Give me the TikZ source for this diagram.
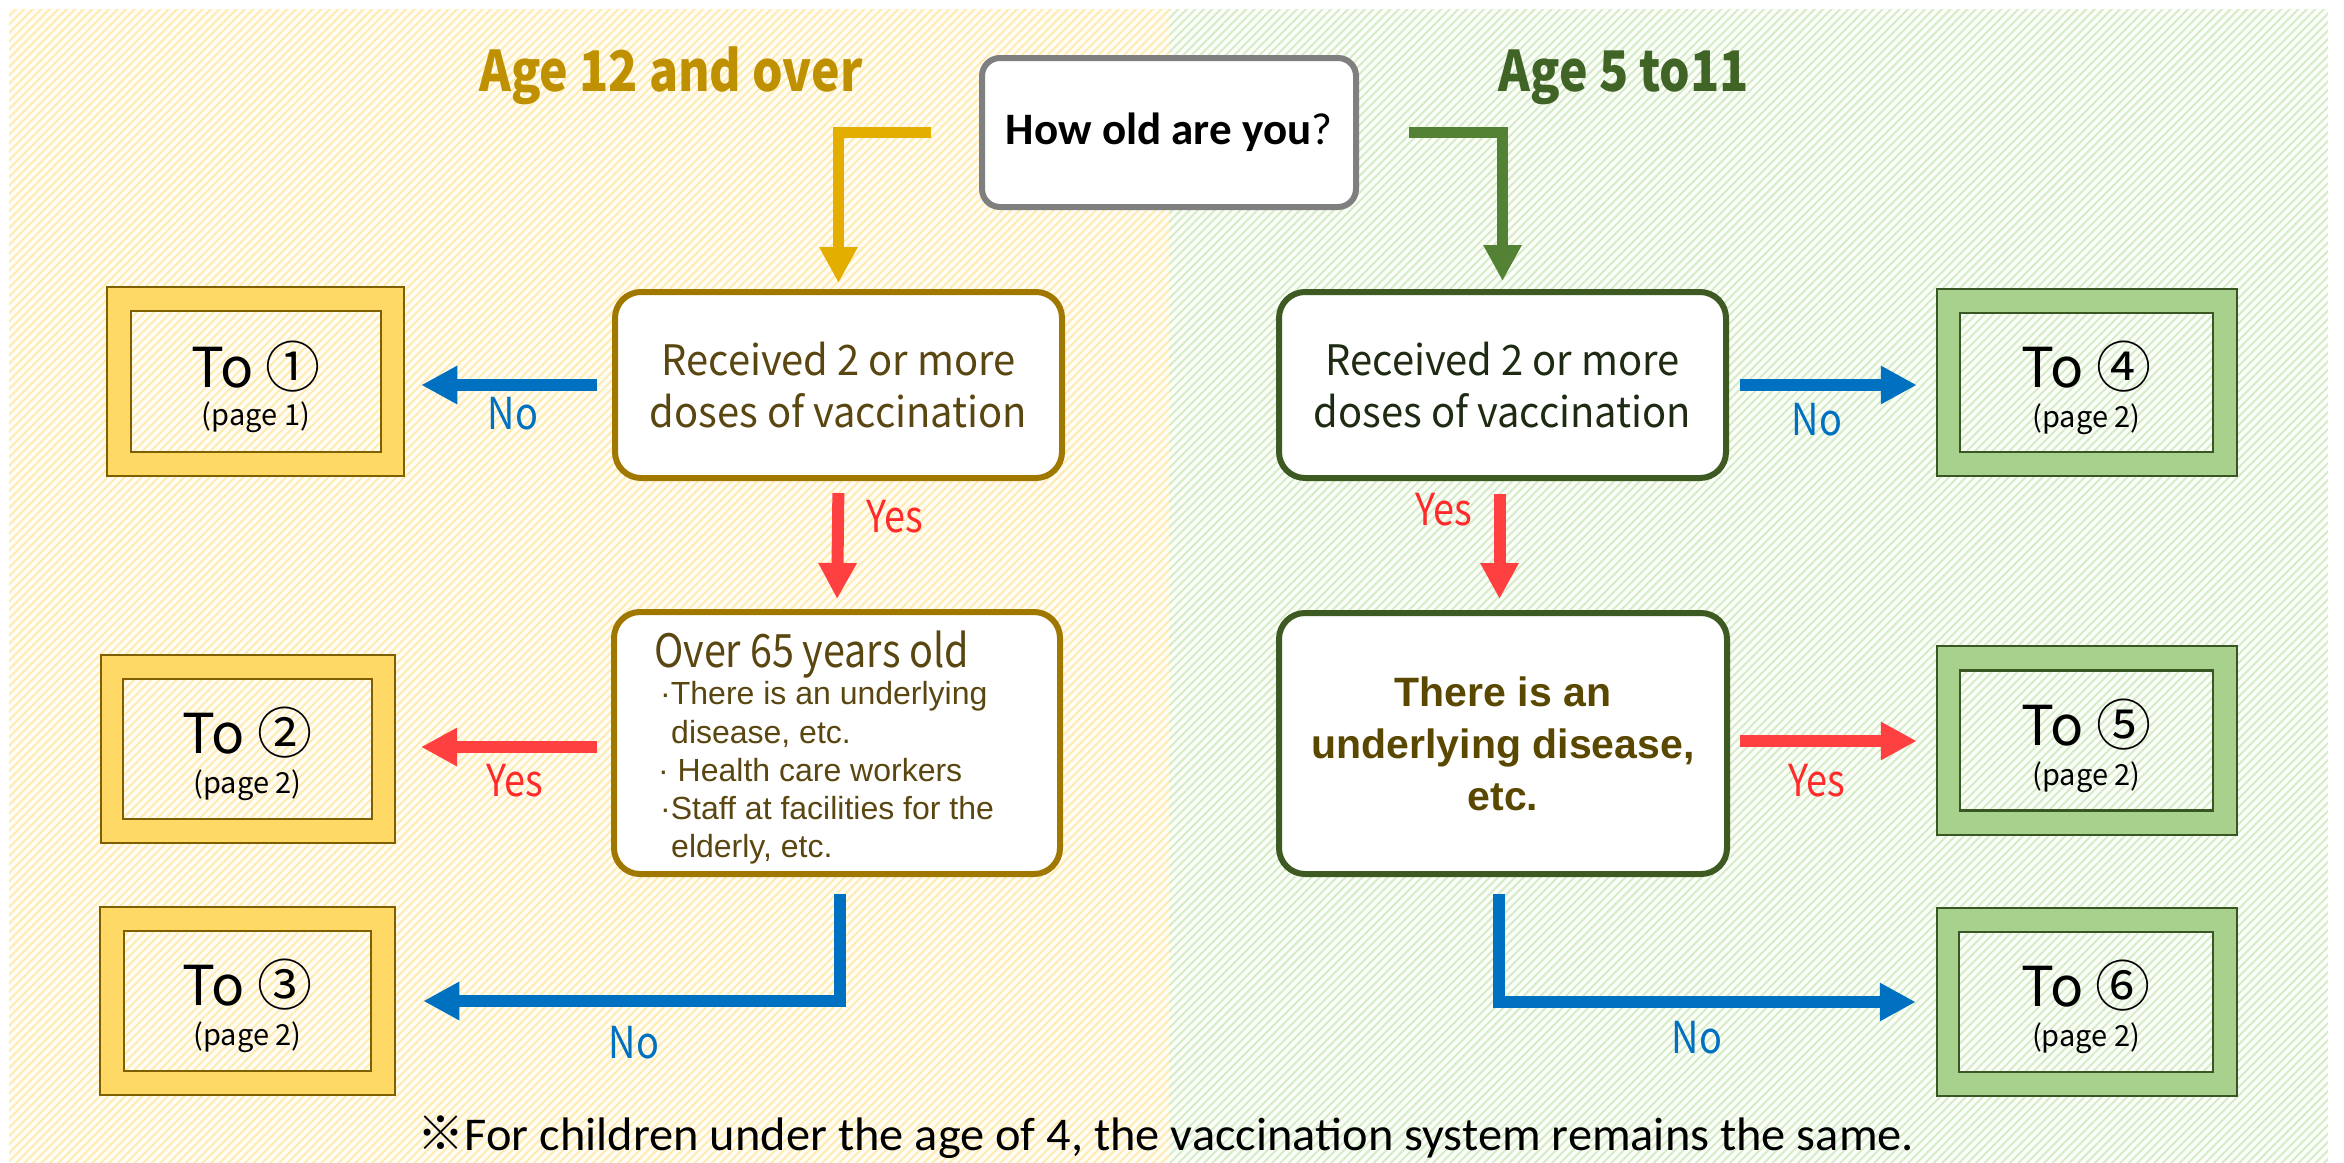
\documentclass[tikz,border=0pt]{standalone}
\usepackage{fontspec}
\setmainfont{Carlito}
\newfontfamily\gothic{Noto Sans CJK JP}[FakeStretch=0.86]
\newfontfamily\gothicm{Noto Sans CJK JP}[FakeStretch=0.95]
\newfontfamily\gothicw{Noto Sans CJK JP}
\newfontfamily\arialf{Liberation Sans}
\newfontfamily\footf{Carlito}[FakeStretch=1.03]
\usetikzlibrary{arrows.meta,patterns.meta,calc}
\definecolor{leftbase}{HTML}{FFFDF6}
\definecolor{rightbase}{HTML}{FCFEFA}
\definecolor{yline}{HTML}{FFEBB0}
\definecolor{gline}{HTML}{D6EBC8}
\definecolor{ytitle}{HTML}{BF9000}
\definecolor{gtitle}{HTML}{3F6426}
\definecolor{yarrow}{HTML}{E3AE00}
\definecolor{garrow}{HTML}{548235}
\definecolor{ybox}{HTML}{A07800}
\definecolor{gbox}{HTML}{3D5A22}
\definecolor{ytext}{HTML}{5A4610}
\definecolor{gtext}{HTML}{1E2B12}
\definecolor{btext}{HTML}{5A4800}
\definecolor{yfill}{HTML}{FFD966}
\definecolor{ybord}{HTML}{7F6000}
\definecolor{gfill}{HTML}{A9D18E}
\definecolor{gbord}{HTML}{385723}
\definecolor{blue1}{HTML}{0070C0}
\definecolor{red1}{HTML}{FF4040}
\definecolor{redtext}{HTML}{FF2A2A}
\definecolor{qgray}{HTML}{7F7F7F}
\tikzset{
  hatchY/.style={pattern={Lines[angle=45,distance=6pt,line width=2pt]}, pattern color=yline},
  hatchG/.style={pattern={Lines[angle=45,distance=6pt,line width=2pt]}, pattern color=gline},
  bigbox/.style={draw, line width=6pt, rounded corners=26pt, fill=white, inner sep=0pt},
  toouterY/.style={draw=ybord, line width=2.5pt, fill=yfill, inner sep=0pt},
  toinnerY/.style={draw=ybord, line width=2.5pt, preaction={fill=leftbase}, preaction={hatchY}, inner sep=0pt},
  toouterG/.style={draw=gbord, line width=2.5pt, fill=gfill, inner sep=0pt},
  toinnerG/.style={draw=gbord, line width=2.5pt, preaction={fill=rightbase}, preaction={hatchG}, inner sep=0pt},
  tobig/.style={anchor=base, inner sep=0pt, font=\gothicw\fontsize{55}{60}\selectfont},
  tosmall/.style={anchor=base, inner sep=0pt, font=\gothicw\fontsize{29}{32}\selectfont},
  lab/.style={anchor=base, inner sep=0pt, font=\gothic\fontsize{44}{48}\selectfont},
  thick arrow/.style={line width=12pt, line join=miter, -{Triangle[length=36pt,width=36pt]}},
  bul/.style={anchor=base west, inner sep=0pt, text=ytext, font=\arialf\fontsize{32}{36}\selectfont},
}
\begin{document}
\begin{tikzpicture}[x=1pt,y=-1pt]
\useasboundingbox (0,0) rectangle (2344,1162);
% panels
\fill[leftbase] (9,9) rectangle (1169,1162);
\fill[hatchY] (9,9) rectangle (1169,1162);
\fill[rightbase] (1169,9) rectangle (2328,1162);
\fill[hatchG] (1169,9) rectangle (2328,1162);

% titles
\node[anchor=base, inner sep=0pt, text=ytitle, font=\gothic\bfseries\fontsize{56}{60}\selectfont] (tl) at (671,91) {Age 12 and over};
\node[anchor=base, inner sep=0pt, text=gtitle, font=\gothic\bfseries\fontsize{56}{60}\selectfont] (tr) at (1624,91) {Age 5 to11};

% question
\node[draw=qgray, line width=6pt, rounded corners=18pt, fill=white, inner sep=0pt,
      minimum width=374pt, minimum height=149pt, font=\fontsize{45}{50}\selectfont] (Q) at (1169,132.5)
      {\textbf{How old are you}?};

% decision boxes
\node[bigbox, draw=ybox, minimum width=447pt, minimum height=186pt, align=center, text=ytext,
      font=\gothicm\fontsize{42}{52}\selectfont] (L1) at (838.5,385) {Received 2 or more\\doses of vaccination};
\node[bigbox, draw=gbox, minimum width=447pt, minimum height=186pt, align=center, text=gtext,
      font=\gothicm\fontsize{42}{52}\selectfont] (R1) at (1502.5,385) {Received 2 or more\\doses of vaccination};
\node[bigbox, draw=ybox, minimum width=446pt, minimum height=262pt] (L2) at (837,743) {};
\node[bigbox, draw=gbox, minimum width=448pt, minimum height=261pt, align=center, text=btext,
      font=\arialf\bfseries\fontsize{41}{52}\selectfont] (R2) at (1503,743.5) {There is an\\underlying disease,\\etc.};

% text of L2
\node[anchor=base west, inner sep=0pt, text=ytext, font=\gothic\fontsize{46}{50}\selectfont] (L2a) at (654,667) {Over 65 years old};
\node[bul] (L2b) at (660,704) {·There is an underlying};
\node[bul] (L2c) at (671,743) {disease, etc.};
\node[bul] (L2d) at (658,781) {· Health care workers};
\node[bul] (L2e) at (660,819) {·Staff at facilities for the};
\node[bul] (L2f) at (671,857) {elderly, etc.};

% "To" boxes, left
\node[toouterY, minimum width=297pt, minimum height=189pt] (o1) at (255.5,381.5) {};
\node[toinnerY, minimum width=250pt, minimum height=141pt] (i1) at (256,381.5) {};
\node[tobig] (t1) at (256,387) {To ①};
\node[tosmall] (p1) at (256,425) {(page 1)};

\node[toouterY, minimum width=294pt, minimum height=188pt] (o2) at (247.75,749) {};
\node[toinnerY, minimum width=249pt, minimum height=140pt] (i2) at (247.5,749) {};
\node[tobig] (t2) at (247.5,753) {To ②};
\node[tosmall] (p2) at (247.5,793) {(page 2)};

\node[toouterY, minimum width=295pt, minimum height=188pt] (o3) at (247.5,1001) {};
\node[toinnerY, minimum width=247pt, minimum height=140pt] (i3) at (247.5,1001) {};
\node[tobig] (t3) at (247.5,1005) {To ③};
\node[tosmall] (p3) at (247.5,1045) {(page 2)};

% "To" boxes, right
\node[toouterG, minimum width=300pt, minimum height=187pt] (o4) at (2087,382.5) {};
\node[toinnerG, minimum width=253pt, minimum height=139pt] (i4) at (2086.5,382.5) {};
\node[tobig] (t4) at (2086.5,387) {To ④};
\node[tosmall] (p4) at (2086.5,427) {(page 2)};

\node[toouterG, minimum width=300pt, minimum height=189pt] (o5) at (2087,740.5) {};
\node[toinnerG, minimum width=253pt, minimum height=140pt] (i5) at (2086.5,740.5) {};
\node[tobig] (t5) at (2086.5,745) {To ⑤};
\node[tosmall] (p5) at (2086.5,785) {(page 2)};

\node[toouterG, minimum width=300pt, minimum height=188pt] (o6) at (2087,1002) {};
\node[toinnerG, minimum width=254pt, minimum height=140pt] (i6) at (2086,1002) {};
\node[tobig] (t6) at (2086,1006) {To ⑥};
\node[tosmall] (p6) at (2086,1046) {(page 2)};

% arrows from question
\draw[thick arrow, line width=11pt, draw=yarrow, shorten <=48pt, shorten >=6pt] (Q.west) -| (L1.north);
\draw[thick arrow, line width=11pt, draw=garrow, shorten <=50pt, shorten >=8pt] (Q.east) -| (R1.north);

% left side arrows
\draw[thick arrow, draw=blue1, shorten <=15pt, shorten >=16pt] (L1.west) -- (L1.west -| o1.east);
\draw[thick arrow, draw=red1, shorten <=12pt, shorten >=10pt] (L1.south) -- (L2.north);
\coordinate (l2w) at ($(L2.west)+(0,4)$);
\draw[thick arrow, draw=red1, shorten <=14pt, shorten >=25pt] (l2w) -- (l2w -| o2.east);
\coordinate (b1) at ($(L2.south)+(3,17)$);
\draw[thick arrow, draw=blue1, shorten >=27pt] (b1) |- (o3.east);

% right side arrows
\draw[thick arrow, draw=blue1, shorten <=11pt, shorten >=19pt] (R1.east) -- (R1.east -| o4.west);
\coordinate (r1s) at ($(R1.south)+(-3,0)$);
\draw[thick arrow, draw=red1, shorten <=13pt, shorten >=11pt] (r1s) -- (r1s |- R2.north);
\coordinate (r2e) at ($(R2.east)+(0,-2.5)$);
\draw[thick arrow, draw=red1, shorten <=10pt, shorten >=19pt] (r2e) -- (r2e -| o5.west);
\coordinate (b2) at ($(R2.south)+(-4,17)$);
\draw[thick arrow, draw=blue1, shorten >=20pt] (b2) |- (o6.west);

% labels
\node[lab, text=blue1] (n1) at (513,429) {No};
\node[lab, text=redtext] (y1) at (895,532) {Yes};
\node[lab, text=redtext] (y2) at (515,796) {Yes};
\node[lab, text=blue1] (n2) at (634,1058) {No};
\node[lab, text=blue1] (n3) at (1817,435) {No};
\node[lab, text=redtext] (y3) at (1444,525) {Yes};
\node[lab, text=redtext] (y4) at (1817,796) {Yes};
\node[lab, text=blue1] (n4) at (1697,1053) {No};

% footer
\node[anchor=base, inner sep=0pt, font=\footf\fontsize{47}{52}\selectfont] (foot) at (1166,1150)
  {{\gothicw ※}For children under the age of 4, the vaccination system remains the same.};
\end{tikzpicture}
\end{document}
